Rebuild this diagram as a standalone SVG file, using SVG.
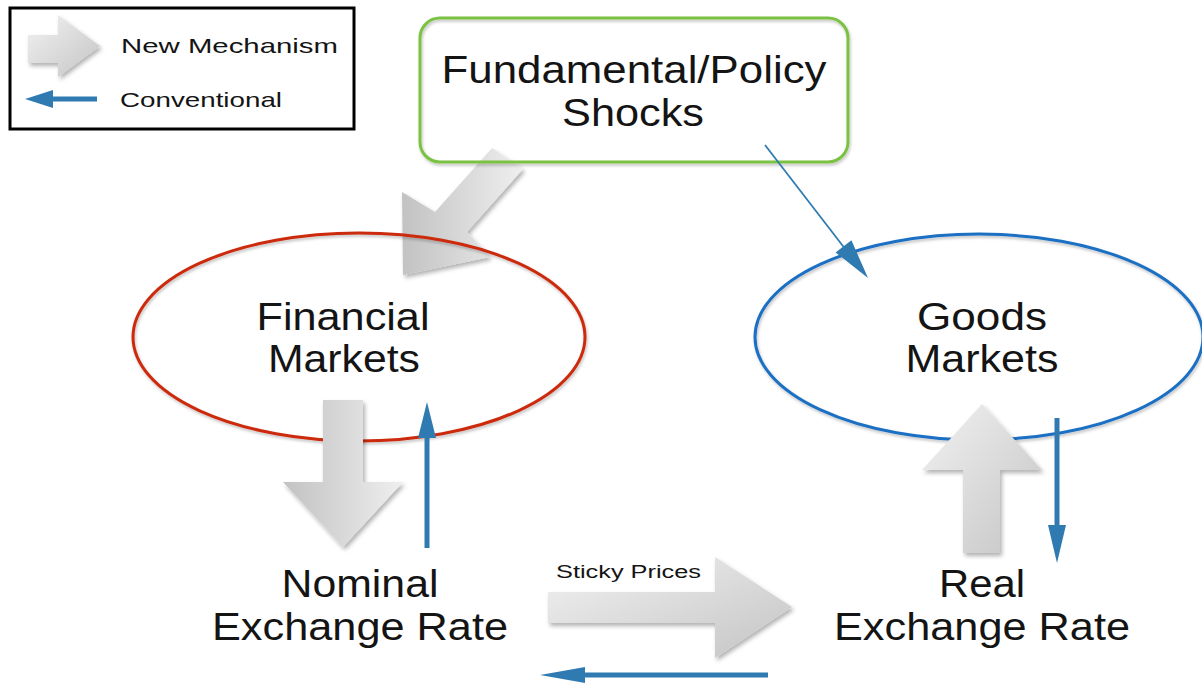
<svg xmlns="http://www.w3.org/2000/svg" width="1202" height="683" viewBox="0 0 1202 683">
<defs>
<style>
.t{font-family:"Liberation Sans",Arial,sans-serif;fill:#141414;text-anchor:middle}
.big{font-size:38px}
.sm{font-size:21px;text-anchor:start}
.xs{font-size:18px;text-anchor:start}
.conv{stroke:#2f7bb1;fill:none}
.head{fill:#2f7bb1;stroke:none}
.newL{fill:url(#gL);filter:url(#sh)}
.newR{fill:url(#gR);filter:url(#sh)}
</style>
<linearGradient id="gL" x1="0" y1="0" x2="1" y2="0"><stop offset="0" stop-color="#c2c2c2"/><stop offset="1" stop-color="#efefef"/></linearGradient>
<linearGradient id="gR" x1="0" y1="0" x2="1" y2="1"><stop offset="0" stop-color="#f2f2f2"/><stop offset="1" stop-color="#c4c4c4"/></linearGradient>
<filter id="sh" x="-20%" y="-20%" width="140%" height="140%"><feDropShadow dx="2" dy="3" stdDeviation="2" flood-color="#000" flood-opacity="0.3"/></filter>
<filter id="sh2" x="-10%" y="-10%" width="120%" height="120%"><feDropShadow dx="1" dy="2" stdDeviation="1.5" flood-color="#000" flood-opacity="0.25"/></filter>
</defs>
<rect width="1202" height="683" fill="#fff"/>
<g id="connectors-back">
<polygon class="newL" points="492,148 523,169 467,232 490,257 403,275 402,192 435,212"/>
</g>
<g id="legend">
<rect x="10" y="8" width="344" height="121" fill="#fff" stroke="#000" stroke-width="3"/>
<polygon class="newR" points="28,35 58,35 58,15 100,46 58,77 58,63 28,63"/>
<text class="t sm" x="121" y="53" textLength="217" lengthAdjust="spacingAndGlyphs">New Mechanism</text>
<line class="conv" x1="97" y1="99" x2="48" y2="99" stroke-width="5"/>
<polygon class="head" points="53,90 25,99 53,108"/>
<text class="t sm" x="120" y="107" textLength="162" lengthAdjust="spacingAndGlyphs">Conventional</text>
</g>
<g id="shocks">
<rect x="420" y="18" width="428" height="144" rx="20" fill="none" stroke="#7cc243" stroke-width="3" filter="url(#sh2)"/>
<text class="t big" x="634" y="83" textLength="385" lengthAdjust="spacingAndGlyphs">Fundamental/Policy</text>
<text class="t big" x="633" y="126" textLength="142" lengthAdjust="spacingAndGlyphs">Shocks</text>
</g>
<g id="financial">
<ellipse cx="359" cy="337" rx="226" ry="104" fill="none" stroke="#cc2a0c" stroke-width="3" filter="url(#sh2)"/>
<text class="t big" x="343" y="330" textLength="173" lengthAdjust="spacingAndGlyphs">Financial</text>
<text class="t big" x="344" y="372" textLength="152" lengthAdjust="spacingAndGlyphs">Markets</text>
</g>
<g id="goods">
<ellipse cx="979" cy="337" rx="224" ry="103" fill="none" stroke="#1b6fc3" stroke-width="3" filter="url(#sh2)"/>
<text class="t big" x="982" y="330" textLength="130" lengthAdjust="spacingAndGlyphs">Goods</text>
<text class="t big" x="982" y="372" textLength="153" lengthAdjust="spacingAndGlyphs">Markets</text>
</g>
<g id="nominal">
<text class="t big" x="360" y="597" textLength="157" lengthAdjust="spacingAndGlyphs">Nominal</text>
<text class="t big" x="360" y="640" textLength="296" lengthAdjust="spacingAndGlyphs">Exchange Rate</text>
</g>
<g id="real">
<text class="t big" x="982" y="597" textLength="86" lengthAdjust="spacingAndGlyphs">Real</text>
<text class="t big" x="982" y="640" textLength="296" lengthAdjust="spacingAndGlyphs">Exchange Rate</text>
</g>
<g id="connectors">
<polygon class="newL" points="323,400 363,400 363,482 403,482 343,547 283,482 323,482"/>
<polygon class="newR" points="963,553 1000,553 1000,470 1042,470 982,404 922,470 963,470"/>
<polygon class="newR" points="548,592 715,592 715,557 792,607 715,658 715,623 548,623"/>
<text class="t xs" x="556" y="578" textLength="145" lengthAdjust="spacingAndGlyphs">Sticky Prices</text>
<line class="conv" x1="427" y1="548" x2="427" y2="434" stroke-width="5"/>
<polygon class="head" points="418,438 427,402 436,438"/>
<line class="conv" x1="1057" y1="418" x2="1057" y2="529" stroke-width="5"/>
<polygon class="head" points="1048,525 1057,563 1066,525"/>
<line class="conv" x1="768" y1="675" x2="580" y2="675" stroke-width="5"/>
<polygon class="head" points="585,667 540,675 585,683"/>
<line class="conv" x1="765" y1="145" x2="846" y2="250" stroke-width="1.8"/>
<polygon class="head" points="851.4,240.2 868,278 835.6,252.4"/>
</g>
</svg>
